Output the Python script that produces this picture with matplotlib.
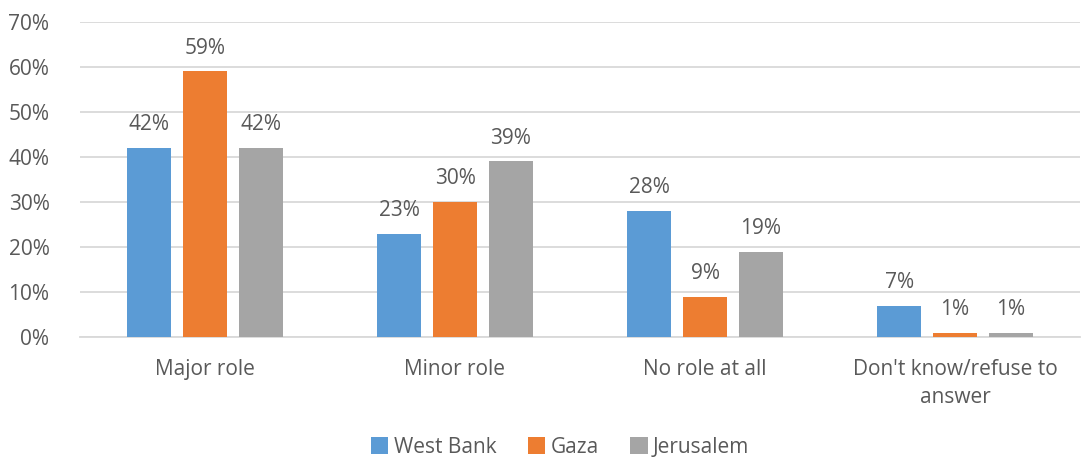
import matplotlib.pyplot as plt
import numpy as np

plt.rcParams["font.family"] = ["Open Sans", "DejaVu Sans"]

categories = ["Major role", "Minor role", "No role at all", "Don't know/refuse to\nanswer"]
series_names = ["West Bank", "Gaza", "Jerusalem"]
west_bank = [42, 23, 28, 7]
gaza = [59, 30, 9, 1]
jerusalem = [42, 39, 19, 1]
colors = ["#5B9BD5", "#ED7D31", "#A5A5A5"]
text_color = "#595959"
fs = 15

fig = plt.figure(figsize=(10.83, 4.61), dpi=100)
ax = fig.add_axes([80 / 1083, 1 - 337 / 461, 1000 / 1083, 315 / 461])

x = np.arange(len(categories))
width = 0.176
step = 0.2236
for i, (vals, name) in enumerate(zip([west_bank, gaza, jerusalem], series_names)):
    pos = x + (i - 1) * step
    bars = ax.bar(pos, vals, width, color=colors[i], label=name, zorder=3)
    for b, v in zip(bars, vals):
        ax.text(b.get_x() + b.get_width() / 2, v + 2.8, f"{v}%",
                ha="center", va="bottom", fontsize=fs, color=text_color)

ax.set_xlim(-0.5, len(categories) - 0.5)
ax.set_ylim(0, 70)
ax.set_yticks(range(0, 71, 10))
ax.set_yticklabels([f"{t}%" for t in range(0, 71, 10)])
ax.set_xticks(x)
ax.set_xticklabels(categories, linespacing=1.45)
ax.tick_params(axis="both", length=0, labelsize=fs, colors=text_color)
ax.tick_params(axis="x", pad=16)
ax.tick_params(axis="y", pad=22)
ax.grid(axis="y", color="#D9D9D9", linewidth=1.3, zorder=0)
for s in ["top", "right", "left"]:
    ax.spines[s].set_visible(False)
ax.spines["bottom"].set_color("#D9D9D9")
ax.spines["bottom"].set_linewidth(1.3)

fig.legend(loc="center", bbox_to_anchor=(0.517, 1 - 447 / 461), ncol=3, frameon=False,
           fontsize=fs, labelcolor=text_color, handlelength=0.85, handleheight=0.85,
           handletextpad=0.25, columnspacing=1.5)

fig.savefig("out.png", dpi=100)
